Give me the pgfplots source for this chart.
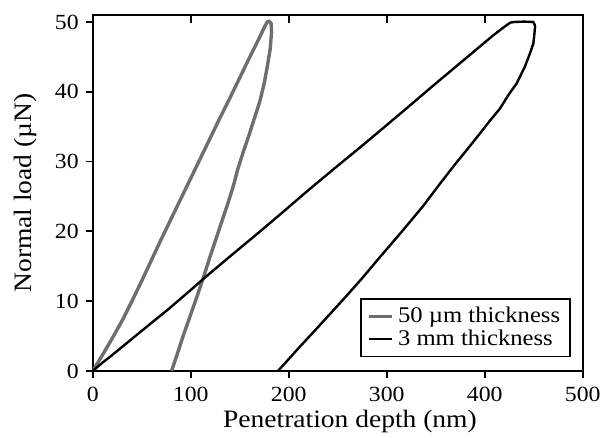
\documentclass[border=0pt]{standalone}
\usepackage{fontspec}
\setmainfont{Liberation Serif}[FakeStretch=1.1]
\usepackage{pgfplots}
\pgfplotsset{compat=1.18}
\usetikzlibrary{calc}

\definecolor{filmgrey}{RGB}{110,110,110}

\begin{document}
\begin{tikzpicture}
\begin{axis}[
    scale only axis,
    width=245pt, height=178pt,
    xmin=0, xmax=500,
    ymin=0, ymax=51,
    xtick={0,100,...,500},
    ytick={0,10,...,50},
    tick align=outside,
    xtick pos=bottom, ytick pos=left,
    major tick length=3.5pt,
    every tick/.style={black, line width=0.9pt},
    axis line style={line width=1pt},
    /pgf/number format/assume math mode=true,
    ticklabel style={font=\fontsize{10.8}{12}\selectfont},
    xticklabel style={yshift=-1pt},
    xlabel={Penetration depth (nm)},
    ylabel={Normal load (µN)},
    xlabel style={font=\fontsize{12.5}{14}\selectfont, at={(axis description cs:0.525,-0.143)}, anchor=center},
    ylabel style={font=\fontsize{12.5}{14}\selectfont, at={(axis description cs:-0.137,0.5)}, anchor=center},
    legend style={at={(0.976,0.039)}, anchor=south east, draw=black, line width=0.8pt,
        font=\fontsize{11.2}{12}\selectfont, inner xsep=3pt, inner ysep=2pt, row sep=-2pt},
    legend cell align=left,
    legend image code/.code={\draw[#1] (0cm,0cm) -- (0.42cm,0cm);},
]
% 50 um film: loading, hold, unloading
\addplot[filmgrey, line width=1.7pt] coordinates {
(0,0) (10,2.3) (20,4.7) (30,7.2) (40,10.0) (50,12.9) (60,15.9) (70,18.9)
(80,21.8) (90,24.7) (100,27.6) (110,30.5) (120,33.4) (130,36.3) (140,39.1)
(150,42.0) (160,44.9) (170,47.7) (175,49.2) (178,50.0)
(180,50.1) (182,49.8) (182.5,48.5) (181,46) (178,43.5) (175,41.2) (170.5,38.6)
(165,36.2) (160,34.0) (153.7,31.4) (148,28.9) (143.5,26.5) (137,23.6) (130,20.7)
(126.5,19.2) (120,16.5) (113,13.4) (106,10.5) (99,7.7) (92,4.9) (86,2.3) (80.5,0)
};
\addlegendentry{50 µm thickness}
% 3 mm substrate: loading, hold, unloading
\addplot[black, line width=1.2pt] coordinates {
(0,0) (10,1.2) (20,2.3) (40,4.6) (60,6.9) (76.8,8.8) (100,11.6) (114.6,13.4)
(140,16.4) (170,19.9) (191,22.4) (220,25.9) (250,29.4) (276,32.4) (293,34.4)
(320,37.6) (347.6,40.9) (381.6,44.9) (408.8,48.1) (420,49.3) (426,49.9) (430,50)
(440,50.05) (449.6,50) (451,49.6) (451.4,49.3) (450.5,48) (449.6,46.9) (446.2,45.5)
(441,43.6) (432.6,41.2) (424,39.5) (415.6,37.6) (405,35.8) (395,34.0) (383,31.9)
(368,29.3) (352,26.4) (337,23.6) (315,19.9) (293,16.3) (275,13.3) (256,10.3)
(230,6.3) (211.5,3.5) (200,1.7) (189,0)
};
\addlegendentry{3 mm thickness}
\coordinate (bl) at (rel axis cs:0,0);
\coordinate (tr) at (rel axis cs:1,1);
\coordinate (t1) at (axis cs:100,51);
\coordinate (t2) at (axis cs:200,51);
\coordinate (t3) at (axis cs:300,51);
\coordinate (t4) at (axis cs:400,51);
\end{axis}
% inward ticks along the top edge
\foreach \t in {t1,t2,t3,t4}{
  \draw[black, line width=1pt] (\t) -- ++(0,-3.8pt);
}
\pgfresetboundingbox
\path ($(bl)+(-46.35pt,-33pt)$) rectangle ($(tr)+(9.65pt,7.5pt)$);
\end{tikzpicture}
\end{document}
